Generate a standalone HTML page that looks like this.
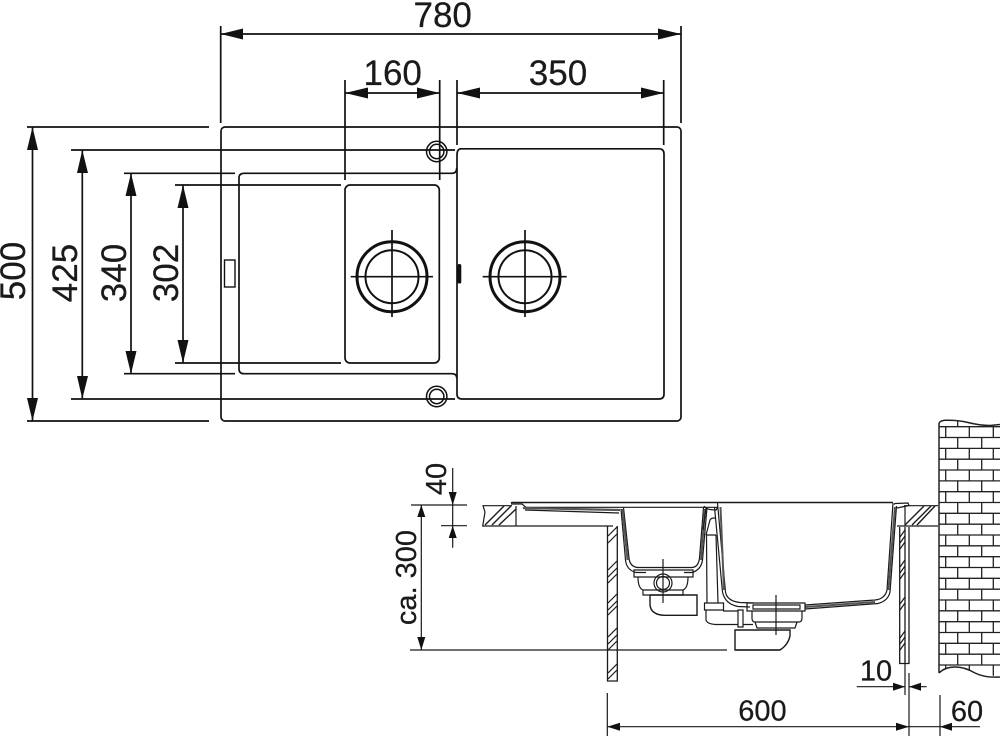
<!DOCTYPE html>
<html><head><meta charset="utf-8"><style>
html,body{margin:0;padding:0;background:#fff}
svg{display:block}
text{font-family:"Liberation Sans",sans-serif;fill:#1a1a1a;stroke:#1a1a1a;stroke-width:.25;text-anchor:middle}
</style></head><body>
<svg width="1000" height="736" viewBox="0 0 1000 736" xmlns="http://www.w3.org/2000/svg">
<!-- top view -->
<g fill="none" stroke="#111" stroke-width="1.7">
<rect x="221" y="127" width="460" height="294" rx="4"/>
<path d="M461,148.8H659Q664,148.8 664,154V394Q664,399 659,399H462Q457,399 457,394V155Q457,148.8 461,148.8"/>
<path d="M456.7,168Q456.7,173.3 452,173.3H244Q239,173.3 239,178V369Q239,373.7 244,373.7H452Q456.7,373.7 456.7,378"/>
<rect x="345" y="185" width="94.3" height="178" rx="5"/>
<rect x="224.5" y="260" width="10.5" height="27" stroke-width="1.4"/>
<circle cx="392" cy="276.7" r="35" stroke-width="3"/>
<circle cx="392" cy="276.7" r="26.5" stroke-width="2"/>
<circle cx="525" cy="276.7" r="35" stroke-width="3"/>
<circle cx="525" cy="276.7" r="26.5" stroke-width="2"/>
<circle cx="436.7" cy="151.5" r="10.2" stroke-width="1.5"/><circle cx="436.7" cy="151.5" r="7.2" stroke-width="1.5"/>
<circle cx="436.7" cy="396.5" r="10.2" stroke-width="1.5"/><circle cx="436.7" cy="396.5" r="7.2" stroke-width="1.5"/>
<path d="M350.7,276.7H433M392,230V317M482.7,276.7H566.7M525,230V317"/>
<!-- extension lines -->
<path d="M220.7,26V123M681,26V123M345,80V180M439.7,80V180M457,80V145M663.7,80V145"/>
<path d="M27,127H209M27,421H209M71,150H455M71,399H455M124,173.3H235M124,373.7H235M175,185H341M175,363H341"/>
<!-- dim lines -->
<path d="M220.7,34H681M345,93H439.7M457,93H663.7M32.5,127V421M82.3,150V399M131,173.3V373.7M183,185V363"/>
</g>
<rect x="457.5" y="264" width="3.8" height="19.5" rx="1.8" fill="#111"/>
<g fill="#111">
<polygon points="220.7,34 243,28.5 243,39.5"/><polygon points="681,34 658,28.5 658,39.5"/>
<polygon points="345,93 368,87.5 368,98.5"/><polygon points="439.7,93 417,87.5 417,98.5"/>
<polygon points="457,93 480,87.5 480,98.5"/><polygon points="663.7,93 641,87.5 641,98.5"/>
<polygon points="32.5,127 27,150 38,150"/><polygon points="32.5,421 27,398 38,398"/>
<polygon points="82.3,150 77,173 88,173"/><polygon points="82.3,399 77,376 88,376"/>
<polygon points="131,173.3 125.5,196 136.5,196"/><polygon points="131,373.7 125.5,351 136.5,351"/>
<polygon points="183,185 177.5,208 188.5,208"/><polygon points="183,363 177.5,340 188.5,340"/>
</g>
<g font-size="35">
<text x="442.7" y="27">780</text>
<text x="392.7" y="85">160</text>
<text x="558" y="85">350</text>
<text transform="translate(25,271) rotate(-90)">500</text>
<text transform="translate(77,273) rotate(-90)">425</text>
<text transform="translate(126,273) rotate(-90)">340</text>
<text transform="translate(178,273) rotate(-90)">302</text>
</g>
<!-- side view -->
<g fill="none" stroke="#1a1a1a" stroke-width="1.2">
<!-- counter left -->
<path d="M512,505.7H483L485,512L482.7,526H613M516,506V526"/>
<path d="M485,525L504,506M492,525L511,506M499,525L516,509" stroke-width="1.4"/>
<!-- counter right -->
<path d="M904,505.7H938M897,526H938M905,506V526"/>
<path d="M905,525L924,506M912,525L931,506M917,525L935,506" stroke-width="1.4"/>
<!-- cabinets -->
<path d="M607.5,526V681H617.3V526M899.7,527V663.5H909V527M905,527V663.5" stroke-width="1.3"/>
<path d="M608,536L617,527M608,543L617,534M608,570L617,561M608,577L617,568M608,583L617,574M608,603L617,594M608,610L617,601M608,615L617,606M608,637L617,628M608,644L617,635M608,650L617,641M608,673L617,664M608,679L617,670"/>
<path d="M900,537L905,530M900,543L905,536M900,549L905,542M900,567L905,560M900,573L905,566M900,579L905,572M900,604L905,597M900,610L905,603M900,638L905,631M900,644L905,637M900,650L905,643"/>
<!-- rim -->
<path d="M511,503L512,502.5H718H893" stroke-width="1.4"/>
<path d="M511,504H522L526,507.3H718"/>
<path d="M523,508L620,510" stroke="#555" stroke-width="2.2"/>
<path d="M525,510L619,513"/>
<!-- left bowl -->
<path d="M621,509L625.5,560Q626.5,570 636,572.5L646,572.5M623.5,507.5L629,558Q630,567 638,567.5H692Q698.5,567 699.5,558L703.5,507.5M707,507.5L702.5,560Q701,570 692,572.5H684"/>
<path d="M622.5,509L627.5,560M705,509L701,560" stroke="#555" stroke-width="2"/>
<!-- left drain -->
<path d="M634,570H693V577H634ZM638,577Q638,588 643,590H683Q688,588 688,577M643,590V595H683V590"/>
<path d="M650,595V605Q651,615 665,615.3H697V595H650" stroke-width="1.4"/>
<circle cx="663" cy="583" r="9"/><circle cx="663" cy="583" r="6.5"/>
<path d="M663,559V603"/>
<!-- pipe -->
<path d="M706,535L710,520Q711,518 714,518L716,518M706,535H716M706.5,535L707,603M716,535L718,603M704.5,603H723.5V610H704.5ZM706,610V620Q707,624 716,624.5H738M723,611H738M743,624.5H753M738,610H743V627H738Z"/>
<path d="M704,506Q706,510 716,510L718,507M706,508L703,530"/>
<!-- right bowl -->
<path d="M717.5,503L725.5,592Q727,601 740,602.5L754,603M893,503L887,590Q885,599 875,600L805,605M714.5,507L722.5,592Q725,604 738,606.5L750,607M896.5,506L890,592Q888,601 878,603.5L805,609"/>
<path d="M720.5,507L724,590M895,507L888.5,590M805,607L875,602" stroke="#555" stroke-width="2"/>
<path d="M894,504.5L895,503.5L908,503L909,505.5L897,508"/>
<!-- right drain -->
<path d="M747,603H805V611H747ZM753,605H800V609H753ZM752,611V618Q752,622 755,622H799Q802,622 802,618V611M755,622L757,628H795L797,622"/>
<path d="M735,630H790V636Q788,645 780,650H735Z" stroke-width="1.4"/>
<path d="M776,595V635"/>
<!-- dims -->
<path d="M411,505H467M441,525.7H467M452.7,468V547.7M421.3,505V650M410,650H727M736,650H780"/>
<path d="M607.3,693V736M909,673V736M940,695V736M905,664V695M607.3,726.7H980M856.7,686.7H905M909,686.7H926.7" stroke-width="1.2"/>
</g>
<!-- brick wall -->
<g fill="none" stroke="#222" stroke-width="1.3">
<path d="M939,423Q941,420.5 945,420.3Q958,420 968,422.5Q980,425.5 990,425.5L1000,424.5M939,673Q945,667 955,667Q965,667 975,673Q985,678 1000,677M939,423V673" stroke-width="1.5"/>
<path d="M939,426.7H1000M939,437.5H1000M939,448.4H1000M939,459.2H1000M939,470H1000M939,480.9H1000M939,491.7H1000M939,502.5H1000M939,513.3H1000M939,524.2H1000M939,535H1000M939,545.8H1000M939,556.7H1000M939,567.5H1000M939,578.3H1000M939,589.2H1000M939,600H1000M939,610.8H1000M939,621.7H1000M939,632.5H1000M939,643.3H1000M939,654.2H1000M939,665H1000"/>
<path d="M957.7,421V426.7"/>
<path stroke-dasharray="10.83 10.83" d="M945.7,426.7V668M969.3,426.7V671M993.3,426.7V677"/>
<path stroke-dasharray="10.83 10.83" d="M957.7,437.5V665M981.7,437.5V665"/>
</g>
<g fill="#111">
<polygon points="452.7,505 448.7,492 456.7,492"/><polygon points="452.7,525.7 448.7,538 456.7,538"/>
<polygon points="421.3,505 417.3,517 425.3,517"/><polygon points="421.3,650 417.3,637 425.3,637"/>
<polygon points="607.3,726.7 620,722.7 620,730.7"/><polygon points="909,726.7 896,722.7 896,730.7"/>
<polygon points="940,726.7 952,722.7 952,730.7"/>
<polygon points="905,686.7 893,682.7 893,690.7"/><polygon points="909,686.7 921,682.7 921,690.7"/>
</g>
<g font-size="29">
<text transform="translate(446,479) rotate(-90)">40</text>
<text transform="translate(416,577.5) rotate(-90)">ca. 300</text>
<text x="762.5" y="720.7">600</text>
<text x="967" y="721">60</text>
<text x="876" y="680.7">10</text>
</g>
</svg>
</body></html>
